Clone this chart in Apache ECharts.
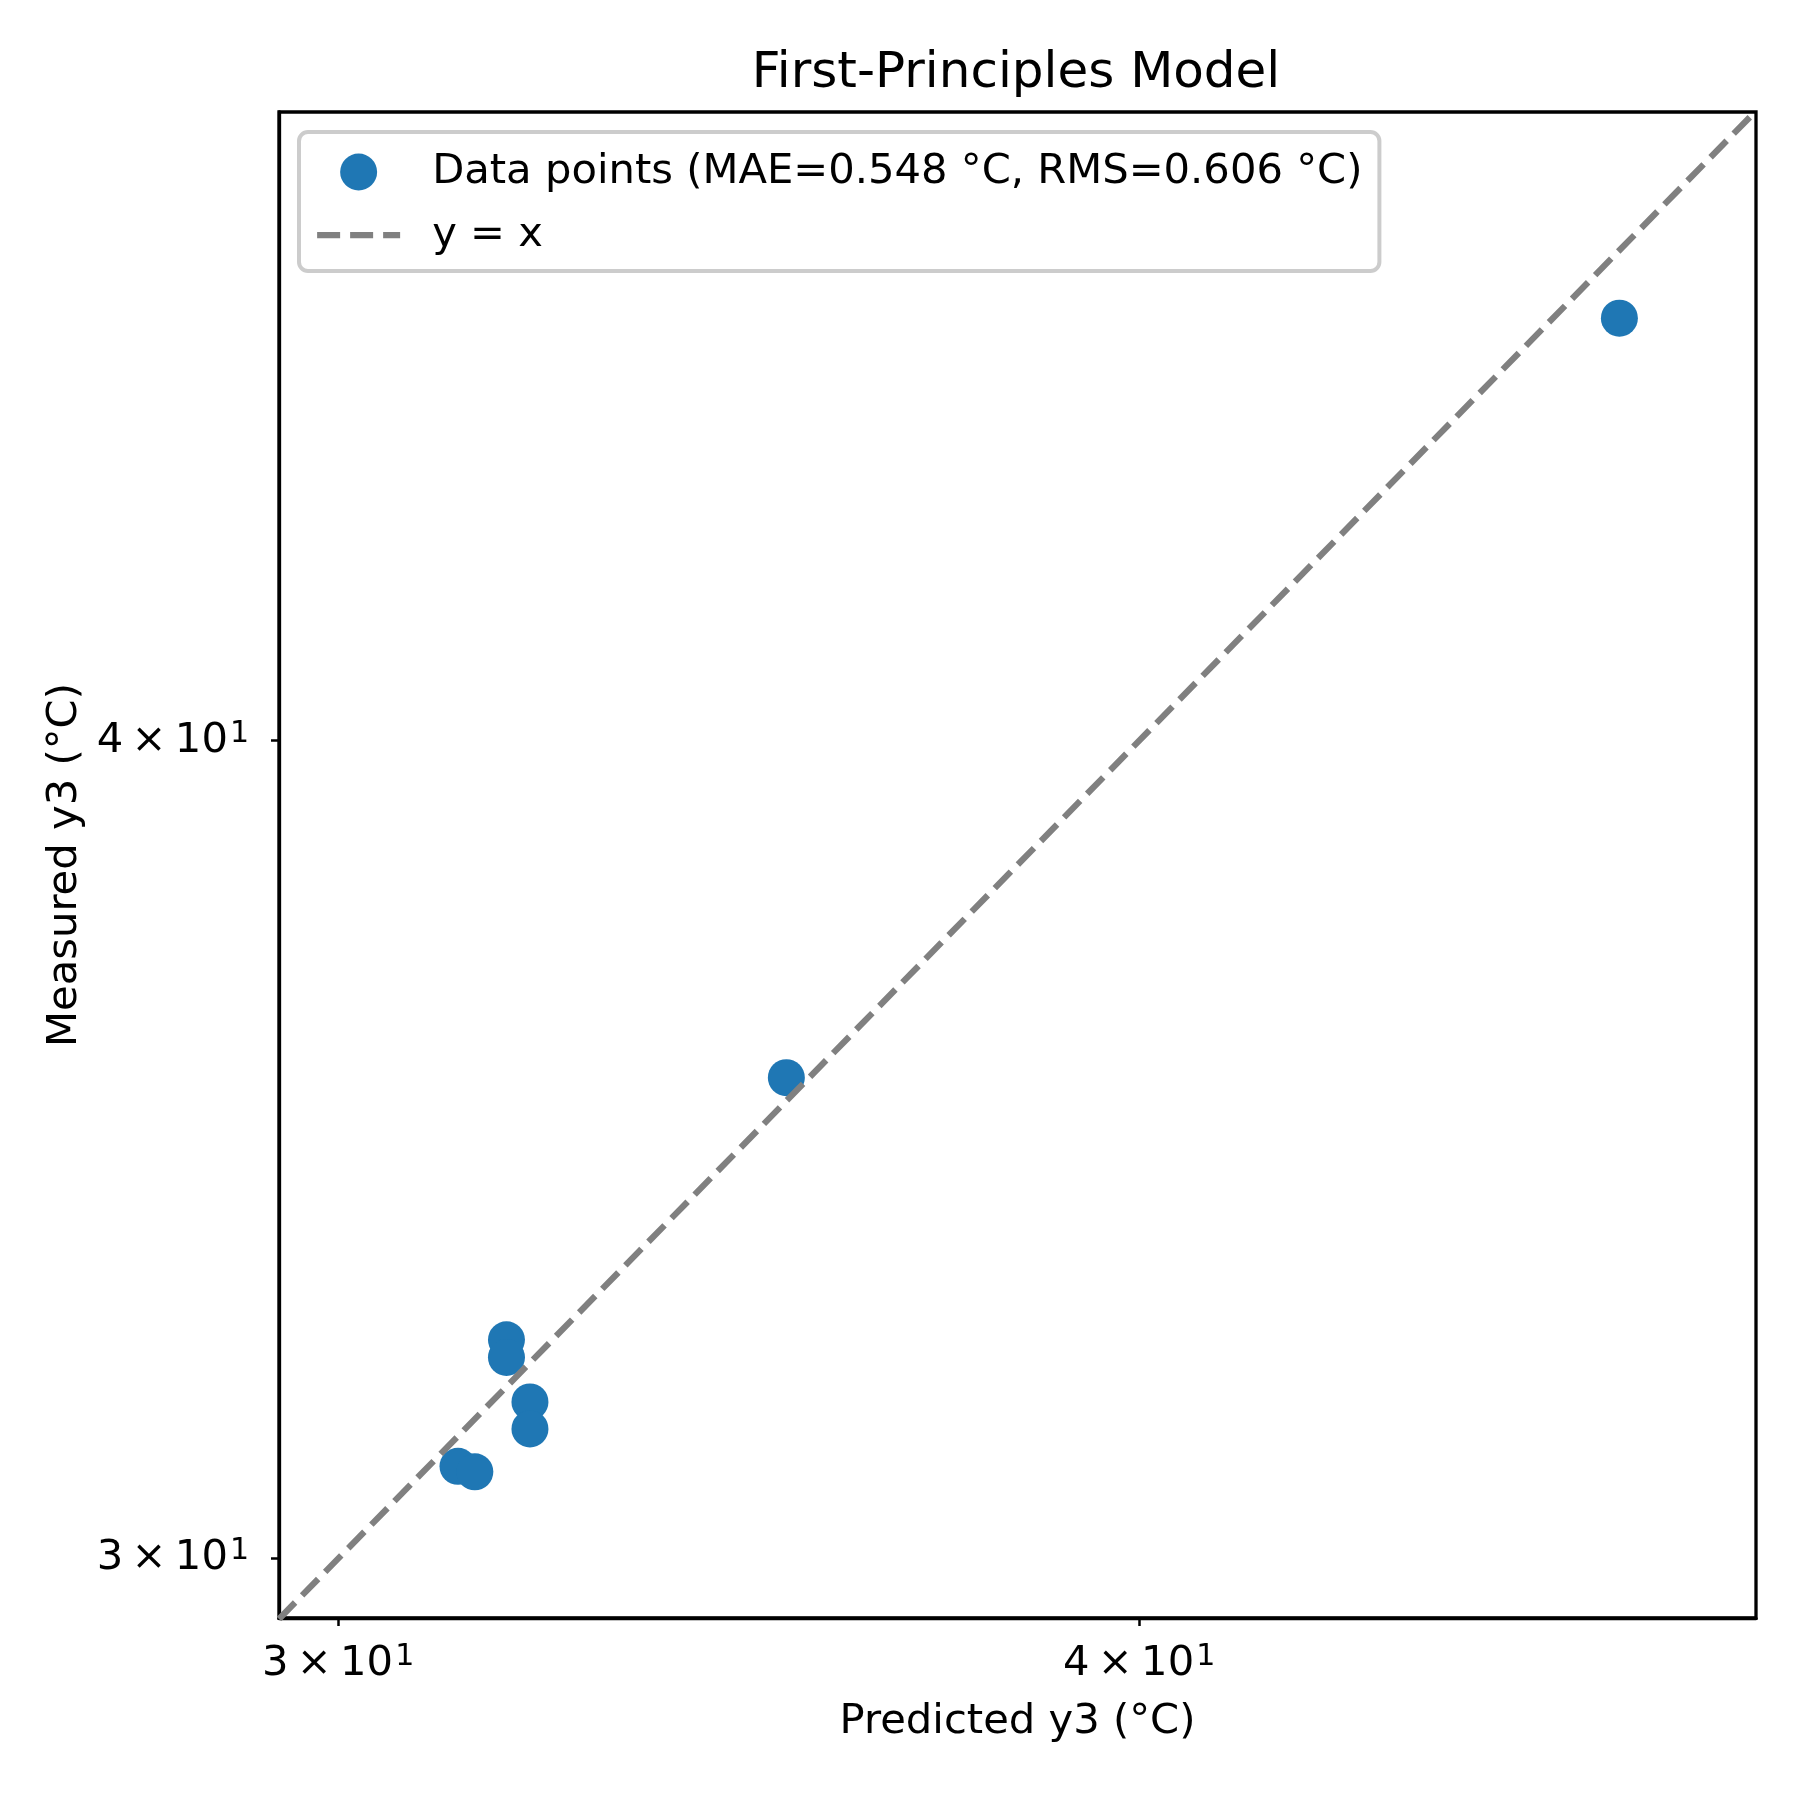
<!DOCTYPE html>
<html>
<head>
<meta charset="utf-8">
<script src="https://cdn.jsdelivr.net/npm/echarts@6/dist/echarts.min.js"></script>
<style>
  html, body { margin: 0; padding: 0; background: #fff; }
  #chart { width: 1800px; height: 1800px; }
</style>
</head>
<body>
<div id="chart"></div>
<script>
// values (log-log axes)
const predicted = [31.87, 31.87, 32.14, 32.14, 31.32, 31.51, 35.24, 47.53];
const measured  = [32.40, 32.20, 31.70, 31.40, 30.99, 30.93, 35.53, 46.41];
const identityLine = [29.37, 49.92];
const xLimits = [29.37, 49.92];
const yLimits = [29.38, 49.9];
const tickValues = [30, 40];
const tickMantissa = { 30: '3', 40: '4' };

const FONT = 'DejaVu Sans';
const chart = echarts.init(document.getElementById('chart'), null, { renderer: 'canvas' });

// matplotlib-like "3 × 10¹" labels (thin spaces round the ×)
function sciLabel(v) {
  const k = Math.round(v);
  return '{b|' + (tickMantissa[k] || '') + '\u2009×\u200910}{s|1}';
}
const richLabel = {
  b: { fontFamily: FONT, fontSize: 41.7, color: '#000', lineHeight: 44 },
  s: { fontFamily: FONT, fontSize: 30, color: '#000', verticalAlign: 'top', lineHeight: 30, padding: [0, 0, 0, 2] }
};

const option = {
  animation: false,
  backgroundColor: '#fff',
  textStyle: { fontFamily: FONT },
  title: {
    text: 'First-Principles Model',
    left: 1011,
    top: 44,
    textAlign: 'center',
    textStyle: { fontFamily: FONT, fontSize: 50, fontWeight: 'normal', color: '#000' }
  },
  grid: {
    left: 279,
    top: 112,
    width: 1477,
    height: 1506,
    show: true,
    borderColor: '#000',
    borderWidth: 3.3,
    backgroundColor: 'transparent'
  },
  legend: {
    orient: 'vertical',
    left: 299,
    top: 132,
    padding: [19, 17, 15, 15],
    itemGap: 21,
    itemWidth: 83,
    itemHeight: 37,
    backgroundColor: '#fff',
    borderColor: '#cccccc',
    borderWidth: 4,
    borderRadius: 9,
    textStyle: { fontFamily: FONT, fontSize: 41.7, color: '#000', padding: [0, 0, 0, 27] },
    data: [
      { name: 'Data points (MAE=0.548 °C, RMS=0.606 °C)' },
      {
        name: 'y = x',
        itemStyle: { opacity: 0 },
        lineStyle: { color: '#808080', width: 6.25, type: [23, 10] }
      }
    ]
  },
  xAxis: {
    type: 'log',
    logBase: 10,
    min: xLimits[0],
    max: xLimits[1],
    name: 'Predicted y3 (°C)',
    nameLocation: 'middle',
    nameGap: 83,
    nameTextStyle: { fontFamily: FONT, fontSize: 41.7, color: '#000' },
    axisLine: { show: true, lineStyle: { color: '#000', width: 3.3 } },
    axisTick: { show: true, length: 8, lineStyle: { color: '#000', width: 2.5 }, customValues: tickValues },
    axisLabel: { margin: 24, customValues: tickValues, formatter: sciLabel, rich: richLabel },
    splitLine: { show: false },
    minorTick: { show: false }
  },
  yAxis: {
    type: 'log',
    logBase: 10,
    min: yLimits[0],
    max: yLimits[1],
    name: 'Measured y3 (°C)',
    nameLocation: 'middle',
    nameGap: 180,
    nameTextStyle: { fontFamily: FONT, fontSize: 41.7, color: '#000' },
    axisLine: { show: true, lineStyle: { color: '#000', width: 3.3 } },
    axisTick: { show: true, length: 8, lineStyle: { color: '#000', width: 2.5 }, customValues: tickValues },
    axisLabel: { margin: 30, customValues: tickValues, formatter: sciLabel, rich: richLabel },
    splitLine: { show: false },
    minorTick: { show: false }
  },
  series: [
    {
      name: 'Data points (MAE=0.548 °C, RMS=0.606 °C)',
      type: 'scatter',
      symbol: 'circle',
      symbolSize: 37,
      itemStyle: { color: '#1f77b4', opacity: 1 },
      data: predicted.map((p, i) => [p, measured[i]]),
      z: 2
    },
    {
      name: 'y = x',
      type: 'line',
      showSymbol: false,
      symbol: 'none',
      clip: true,
      lineStyle: { color: '#808080', width: 6.25, type: [23, 10] },
      itemStyle: { color: '#808080' },
      data: identityLine.map(v => [v, v]),
      z: 3
    }
  ]
};

chart.setOption(option);
</script>
</body>
</html>
